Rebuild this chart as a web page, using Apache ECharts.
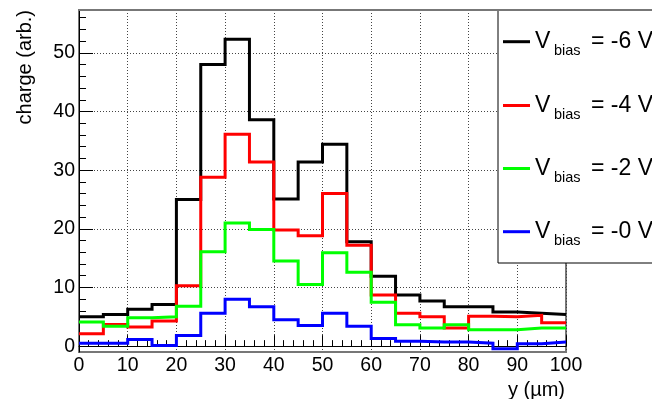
<!DOCTYPE html>
<html>
<head>
<meta charset="utf-8">
<script src="https://cdn.jsdelivr.net/npm/echarts@6/dist/echarts.min.js"></script>
<style>
  html, body { margin: 0; padding: 0; background: #fff; }
  #chart { width: 652px; height: 399px; }
</style>
</head>
<body>
<div id="chart"></div>
<script>
// bin edges (µm), 5 µm wide bins
const binEdges = [0, 5, 10, 15, 20, 25, 30, 35, 40, 45, 50, 55, 60, 65, 70, 75, 80, 85, 90, 95, 100]
const xTicks = [0, 10, 20, 30, 40, 50, 60, 70, 80, 90, 100]
const yTicks = [0, 10, 20, 30, 40, 50]

const names = ['-6 V', '-4 V', '-2 V', '-0 V']
const colors = ['#000000', '#ff0000', '#00ff00', '#0000ff']

// charge per bin
const bias6 = [5.0, 5.4, 6.3, 7.1, 25.0, 48.0, 52.3, 38.6, 25.1, 31.4, 34.4, 17.8, 11.9, 8.7, 7.7, 6.7, 6.7, 5.8, 5.6, 5.4]
const bias4 = [2.1, 3.7, 3.25, 4.3, 10.3, 28.8, 36.1, 31.4, 19.8, 18.8, 26.0, 17.2, 8.7, 5.6, 5.0, 3.1, 5.1, 5.0, 5.25, 4.0]
const bias2 = [4.1, 3.4, 4.85, 5.0, 6.8, 16.1, 21.0, 19.9, 14.5, 10.5, 15.9, 12.6, 7.5, 3.65, 3.1, 3.65, 2.8, 2.8, 3.1, 3.1]
const bias0 = [0.5, 0.5, 1.15, 0.1, 1.8, 5.6, 8.0, 6.7, 4.5, 3.5, 5.6, 3.4, 1.3, 0.85, 0.7, 0.7, 0.5, -0.45, 0.4, 0.7]
const allValues = [bias6, bias4, bias2, bias0]

const FONT = '"Liberation Sans", Arial, Helvetica, sans-serif'

// frame in pixels
const L = 79, R = 86, TOP = 10, BOT = 352
const yMin = -1, yMax = 57.3
const pxPerUnit = (BOT - TOP) / (yMax - yMin)
const zeroY = BOT + yMin * pxPerUnit   // pixel row of y = 0

// histogram outline: left edge of each bin, plus the last right edge
const toSteps = (vals) => {
  const pts = vals.map((v, i) => [binEdges[i], v])
  pts.push([binEdges[binEdges.length - 1], vals[vals.length - 1]])
  return pts
}

const myChart = echarts.init(document.getElementById('chart'), null, { renderer: 'canvas' })

const legendRows = [41.7, 105.5, 168.5, 231.7]
const legendEls = []
legendEls.push({
  type: 'rect', z: 100,
  shape: { x: 498, y: TOP, width: 200, height: 263 - TOP },
  style: { fill: '#fff', stroke: '#000', lineWidth: 1 }
})
names.forEach((n, i) => {
  const y = legendRows[i]
  legendEls.push({ type: 'line', z: 101, shape: { x1: 503, y1: y, x2: 530, y2: y }, style: { stroke: colors[i], lineWidth: 3 } })
  legendEls.push({ type: 'text', z: 101, x: 535, y: y, style: { text: 'V', fontSize: 23, fontFamily: FONT, fill: '#000', align: 'left', verticalAlign: 'middle' } })
  legendEls.push({ type: 'text', z: 101, x: 554, y: y + 9, style: { text: 'bias', fontSize: 14.5, fontFamily: FONT, fill: '#000', align: 'left', verticalAlign: 'middle' } })
  legendEls.push({ type: 'text', z: 101, x: 591, y: y, style: { text: '= ' + n, fontSize: 23, fontFamily: FONT, fill: '#000', align: 'left', verticalAlign: 'middle' } })
})

const option = {
  animation: false,
  backgroundColor: '#fff',
  grid: [
    { left: L, right: R, top: TOP, bottom: 399 - BOT, show: true, borderColor: '#777', borderWidth: 2, backgroundColor: 'transparent', outerBoundsMode: 'none', containLabel: false },
    // second grid carries the y ticks so that they start at 0
    { left: L, right: R, top: zeroY - 60 * pxPerUnit, bottom: 399 - zeroY, outerBoundsMode: 'none', containLabel: false }
  ],
  xAxis: [
    {
      type: 'value', gridIndex: 0, min: 0, max: 100, interval: 10,
      axisLine: { show: true, lineStyle: { color: '#000', width: 1 } },
      axisTick: { show: true, inside: true, length: 11, lineStyle: { color: '#000' } },
      minorTick: { show: true, splitNumber: 5, length: 6, lineStyle: { color: '#000' } },
      axisLabel: {
        fontSize: 19.5, fontFamily: FONT, color: '#000', margin: 4,
        formatter: (v) => xTicks.includes(v) ? String(v) : ''
      },
      splitLine: { show: true, lineStyle: { color: '#444', type: [1, 2], width: 1 } }
    },
    { type: 'value', gridIndex: 1, min: 0, max: 100, show: false }
  ],
  yAxis: [
    {
      type: 'value', gridIndex: 0, min: yMin, max: yMax,
      axisLine: { show: true, lineStyle: { color: '#000', width: 1 } },
      axisTick: { show: false }, axisLabel: { show: false }, splitLine: { show: false }
    },
    {
      type: 'value', gridIndex: 1, min: 0, max: 60, interval: 10,
      axisLine: { show: false },
      axisTick: { show: true, inside: true, length: 14, lineStyle: { color: '#000' } },
      minorTick: { show: true, splitNumber: 5, length: 7, lineStyle: { color: '#000' } },
      axisLabel: {
        fontSize: 19.5, fontFamily: FONT, color: '#000', margin: 4,
        formatter: (v) => yTicks.includes(v) ? String(v) : ''
      },
      splitLine: { show: true, lineStyle: { color: '#444', type: [1, 2], width: 1 } }
    }
  ],
  series: allValues.map((vals, i) => ({
    name: 'V_bias = ' + names[i],
    type: 'line',
    xAxisIndex: 0, yAxisIndex: 0,
    step: 'end',
    showSymbol: false,
    data: toSteps(vals),
    lineStyle: { color: colors[i], width: 3, cap: 'butt', join: 'miter' },
    z: 3 + i
  })),
  graphic: {
    elements: [
      // hide the tick above the frame top
      { type: 'rect', z: 100, shape: { x: 60, y: -20, width: 440, height: TOP - 1 + 20 }, style: { fill: '#fff' } },
      ...legendEls,
      { type: 'line', z: 102, shape: { x1: L, y1: TOP, x2: 652, y2: TOP }, style: { stroke: '#777', lineWidth: 2 } },
      {
        type: 'text', z: 101, x: 25, y: 10, rotation: Math.PI / 2,
        style: { text: 'charge (arb.)', fontSize: 20, fontFamily: FONT, fill: '#000', align: 'right', verticalAlign: 'middle' }
      },
      {
        type: 'text', z: 101, x: 565, y: 390,
        style: { text: 'y (µm)', fontSize: 20, fontFamily: FONT, fill: '#000', align: 'right', verticalAlign: 'middle' }
      }
    ]
  }
}

myChart.setOption(option)
window.addEventListener('resize', myChart.resize)
</script>
</body>
</html>
